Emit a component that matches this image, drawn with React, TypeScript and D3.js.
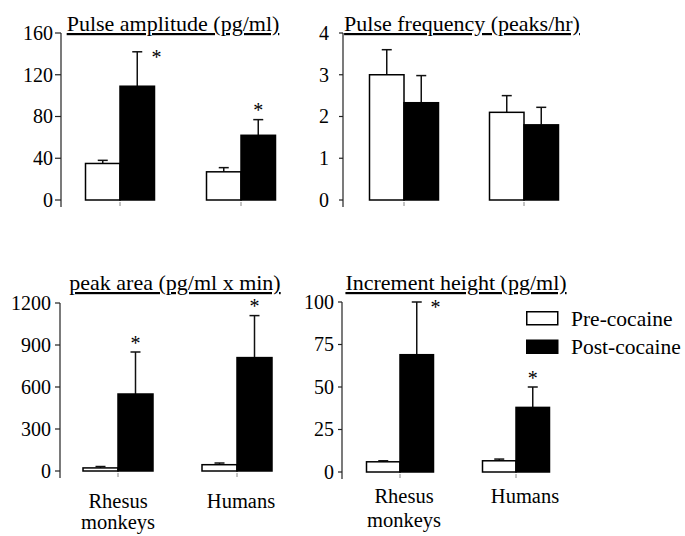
import React from "react";
import * as d3 from "d3";

// CATEGORIES & SERIES
const groups = ["Rhesus monkeys", "Humans"];
const seriesNames = ["Pre-cocaine", "Post-cocaine"];

// PULSE AMPLITUDE (pg/ml)
const ampPre = [35, 27];
const ampPreSem = [3, 4];
const ampPost = [109, 62];
const ampPostSem = [33, 15];
const ampTicks = [0, 40, 80, 120, 160];
const ampStars = ["right", "above"];

// PULSE FREQUENCY (peaks/hr)
const freqPre = [3.0, 2.1];
const freqPreSem = [0.6, 0.4];
const freqPost = [2.33, 1.8];
const freqPostSem = [0.65, 0.42];
const freqTicks = [0, 1, 2, 3, 4];
const freqStars = [null, null];

// PEAK AREA (pg/ml x min)
const areaPre = [22, 45];
const areaPreSem = [10, 12];
const areaPost = [550, 810];
const areaPostSem = [300, 300];
const areaTicks = [0, 300, 600, 900, 1200];
const areaStars = ["above", "above"];

// INCREMENT HEIGHT (pg/ml)
const incPre = [6, 6.6];
const incPreSem = [0.6, 1];
const incPost = [69, 38];
const incPostSem = [31, 12];
const incTicks = [0, 25, 50, 75, 100];
const incStars = ["right", "above"];

const FONT = "Liberation Serif, Tinos, DejaVu Serif, Noto Serif, serif";

const panels = [
  {
    title: "Pulse amplitude (pg/ml)",
    pre: ampPre, preSem: ampPreSem, post: ampPost, postSem: ampPostSem,
    ticks: ampTicks, stars: ampStars,
    axisX: 61, yTop: 33, yBottom: 200, centers: [120, 241], bw: 34.5,
    titleX: 173, titleY: 31, labelGap: 8, tickLen: 6, showX: false,
  },
  {
    title: "Pulse frequency (peaks/hr)",
    pre: freqPre, preSem: freqPreSem, post: freqPost, postSem: freqPostSem,
    ticks: freqTicks, stars: freqStars,
    axisX: 343, yTop: 33, yBottom: 200, centers: [404, 524], bw: 34.5,
    titleX: 462, titleY: 31, labelGap: 14, tickLen: 4, showX: false,
  },
  {
    title: "peak area (pg/ml x min)",
    pre: areaPre, preSem: areaPreSem, post: areaPost, postSem: areaPostSem,
    ticks: areaTicks, stars: areaStars,
    axisX: 60, yTop: 303, yBottom: 471, centers: [118, 237], bw: 35,
    titleX: 175, titleY: 290, labelGap: 9, tickLen: 5, showX: true,
    labelShift: [0, 4], labelY: 508, lineGap: 21,
  },
  {
    title: "Increment height (pg/ml)",
    pre: incPre, preSem: incPreSem, post: incPost, postSem: incPostSem,
    ticks: incTicks, stars: incStars,
    axisX: 342, yTop: 302, yBottom: 472, centers: [400, 516], bw: 33.5,
    titleX: 456, titleY: 290, labelGap: 8, tickLen: 4, showX: true,
    labelShift: [4, 9], labelY: 503, lineGap: 24,
  },
];

function Panel({ p }: { p: any }) {
  const yScale = d3
    .scaleLinear()
    .domain([0, p.ticks[p.ticks.length - 1]])
    .range([p.yBottom, p.yTop]);
  const xScale = d3.scalePoint().domain(groups).range(p.centers);

  const bars: any[] = [];
  groups.forEach((g, i) => {
    const c = xScale(g) as number;
    bars.push({ key: g + "pre", x: c - p.bw, v: p.pre[i], sem: p.preSem[i], fill: "#fff", star: null });
    bars.push({ key: g + "post", x: c, v: p.post[i], sem: p.postSem[i], fill: "#000", star: p.stars[i] });
  });

  return (
    <g>
      {/* TITLE */}
      <text
        x={p.titleX}
        y={p.titleY}
        textAnchor="middle"
        fontSize={22}
        fontFamily={FONT}
        style={{ textDecoration: "underline" }}
      >
        {p.title}
      </text>

      {/* Y AXIS */}
      <line x1={p.axisX} x2={p.axisX} y1={p.yTop} y2={p.yBottom + 7} stroke="#222" strokeWidth={1.2} />
      {p.ticks.map((t: number) => (
        <g key={t} transform={`translate(0,${yScale(t)})`}>
          <line x1={p.axisX - p.tickLen} x2={p.axisX} stroke="#222" strokeWidth={1.2} />
          <text
            x={p.axisX - p.labelGap}
            dy="0.34em"
            textAnchor="end"
            fontSize={20}
            fontFamily={FONT}
          >
            {t}
          </text>
        </g>
      ))}

      {/* BARS */}
      {bars.map((b) => {
        const top = yScale(b.v);
        const cx = b.x + p.bw / 2;
        const errY = yScale(b.v + b.sem);
        return (
          <g key={b.key}>
            <line x1={cx} x2={cx} y1={top} y2={errY} stroke="#111" strokeWidth={1.5} />
            <line x1={cx - 5} x2={cx + 5} y1={errY} y2={errY} stroke="#111" strokeWidth={1.5} />
            <rect
              x={b.x}
              y={top}
              width={p.bw}
              height={p.yBottom - top}
              fill={b.fill}
              stroke="#000"
              strokeWidth={1.5}
            />
            {b.star === "right" && (
              <text x={b.x + p.bw + 2} y={errY + 12} textAnchor="middle" fontSize={20} fontFamily={FONT}>
                *
              </text>
            )}
            {b.star === "above" && (
              <text x={cx} y={errY - 2.5} textAnchor="middle" fontSize={20} fontFamily={FONT}>
                *
              </text>
            )}
          </g>
        );
      })}

      {/* X TICKS */}
      {groups.map((g) => (
        <line
          key={g}
          x1={xScale(g)}
          x2={xScale(g)}
          y1={p.yBottom + 2}
          y2={p.yBottom + 6}
          stroke="#888"
          strokeWidth={1}
        />
      ))}

      {/* X LABELS */}
      {p.showX &&
        groups.map((g, i) => (
          <text
            key={g}
            x={(xScale(g) as number) + p.labelShift[i]}
            y={p.labelY}
            textAnchor="middle"
            fontSize={20.5}
            fontFamily={FONT}
          >
            {g.split(" ").map((w, j) => (
              <tspan key={w} x={(xScale(g) as number) + p.labelShift[i]} dy={j === 0 ? 0 : p.lineGap}>
                {w}
              </tspan>
            ))}
          </text>
        ))}
    </g>
  );
}

export default function App() {
  return (
    <svg
      width={685}
      height={536}
      style={{ position: "absolute", left: 0, top: 0, background: "#fff" }}
      fontFamily={FONT}
      fill="#000"
    >
      {panels.map((p) => (
        <Panel key={p.title} p={p} />
      ))}

      {/* LEGEND */}
      {seriesNames.map((s, i) => (
        <g key={s} transform={`translate(526,${311 + i * 28.5})`}>
          <rect x={0.75} y={0.75} width={31} height={13} fill={i === 0 ? "#fff" : "#000"} stroke="#000" strokeWidth={1.5} />
          <text x={45} y={14.5} fontSize={21.5} fontFamily={FONT}>
            {s}
          </text>
        </g>
      ))}
    </svg>
  );
}
